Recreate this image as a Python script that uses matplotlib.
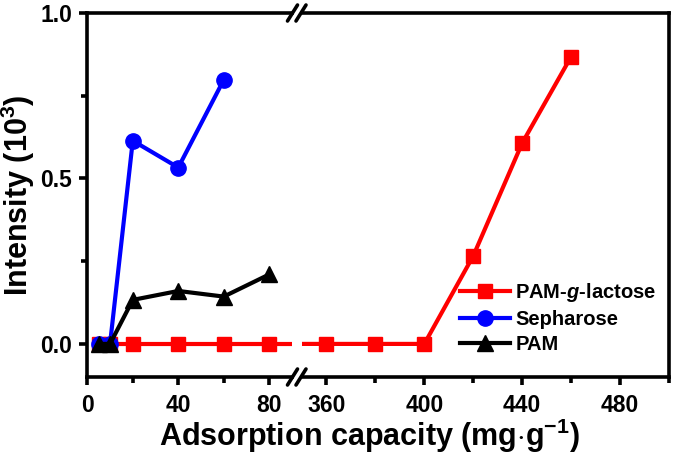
import matplotlib
matplotlib.use("Agg")
import matplotlib.pyplot as plt
from matplotlib.lines import Line2D
from matplotlib.ticker import MultipleLocator

plt.rcParams['font.family'] = ['Liberation Sans', 'DejaVu Sans']
plt.rcParams['font.weight'] = 'bold'
plt.rcParams['mathtext.fontset'] = 'custom'
plt.rcParams['mathtext.rm'] = 'Liberation Sans:bold'
plt.rcParams['mathtext.it'] = 'Liberation Sans:italic:bold'
plt.rcParams['mathtext.bf'] = 'Liberation Sans:bold'

# Data
lac_x = [5, 10, 20, 40, 60, 80, 360, 380, 400, 420, 440, 460]
lac_y = [0, 0, 0, 0, 0, 0, 0, 0, 0, 0.266, 0.607, 0.868]
seph_x = [5, 10, 20, 40, 60]
seph_y = [0, 0, 0.614, 0.533, 0.798]
pam_x = [5, 10, 20, 40, 60, 80]
pam_y = [0, 0, 0.133, 0.160, 0.143, 0.210]
labels = ['PAM-$g$-lactose', 'Sepharose', 'PAM']

W, H = 675, 455
fig = plt.figure(figsize=(W / 100, H / 100), dpi=100)

def fx(px):
    return px / W

def fy(py):
    return 1 - py / H

left0, right0 = 87.3, 292.0
left1, right1 = 302.0, 669.0
top, bot = 13.0, 377.0

axL = fig.add_axes([fx(left0), fy(bot), fx(right0) - fx(left0), fy(top) - fy(bot)])
axR = fig.add_axes([fx(left1), fy(bot), fx(right1) - fx(left1), fy(top) - fy(bot)])

lw = 3.0
for ax in (axL, axR):
    ax.plot(lac_x, lac_y, color='#ff0000', lw=lw, marker='s', ms=10, label=labels[0], zorder=3)
    ax.plot(seph_x, seph_y, color='#0000ff', lw=lw, marker='o', ms=11, label=labels[1], zorder=4)
    ax.plot(pam_x, pam_y, color='black', lw=lw, marker='^', ms=11, label=labels[2], zorder=5)
    ax.set_ylim(-0.1, 1.0)
    for s in ax.spines.values():
        s.set_linewidth(2.6)
    ax.tick_params(which='major', direction='out', length=6, width=2.6, labelsize=16.5, pad=5)
    ax.tick_params(which='minor', direction='out', length=4, width=2.6)
    ax.tick_params(axis='x', pad=6)

axL.set_xlim(0, 90)
axR.set_xlim(350, 500)
axL.xaxis.set_major_locator(MultipleLocator(40))
axL.xaxis.set_minor_locator(MultipleLocator(20))
axR.set_xticks([360, 400, 440, 480])
axR.set_xticks([380, 420, 460, 500], minor=True)
axL.set_yticks([0.0, 0.5, 1.0])
axL.set_yticklabels(['0.0', '0.5', '1.0'])
axL.set_yticks([0.25, 0.75], minor=True)
axR.set_yticks([])
axR.set_yticks([], minor=True)
axL.spines['right'].set_visible(False)
axR.spines['left'].set_visible(False)
axR.tick_params(axis='y', which='both', left=False, labelleft=False)

fig.text(fx(18), fy(195), 'Intensity (10$^{3}$)', fontsize=22, fontweight='bold',
         ha='center', va='center', rotation=90)
fig.text(fx(369), 9 / H, 'Adsorption capacity (mg$\\cdot$g$^{-1}$)', fontsize=22,
         fontweight='bold', ha='center', va='baseline')

# axis break marks
for yb in (top, bot):
    for xc in (292.5, 301.0):
        fig.add_artist(Line2D([fx(xc - 5), fx(xc + 5)], [fy(yb + 8), fy(yb - 8)],
                              color='black', lw=2.6, solid_capstyle='round'))

handles, labs = axR.get_legend_handles_labels()
leg = axR.legend(handles, labs, loc='upper left', bbox_to_anchor=(fx(460), fy(281)),
                 bbox_transform=fig.transFigure, frameon=False, fontsize=14.5,
                 handlelength=2.5, handletextpad=0.25, labelspacing=0.3, borderpad=0,
                 borderaxespad=0)
for t in leg.get_texts():
    t.set_fontweight('bold')

fig.savefig('out.png', dpi=100)
